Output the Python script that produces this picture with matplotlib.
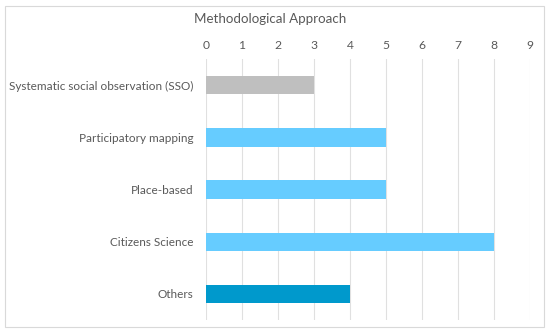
import matplotlib.pyplot as plt
from matplotlib.patches import Rectangle

categories = ["Systematic social observation (SSO)", "Participatory mapping",
              "Place-based", "Citizens Science", "Others"]
values = [3, 5, 5, 8, 4]
colors = ["#BFBFBF", "#66CCFF", "#66CCFF", "#66CCFF", "#0099CC"]

plt.rcParams['font.family'] = ['Lato', 'DejaVu Sans']

fig = plt.figure(figsize=(5.5, 3.36), dpi=100)
ax = fig.add_axes([0.3745, 0.0476, 0.5891, 0.7764])

# outer chart border
fig.patches.append(Rectangle((5 / 550, 1 - 327 / 336), 539 / 550, 321 / 336,
                             transform=fig.transFigure, fill=False,
                             edgecolor="#D9D9D9", linewidth=0.8))

y = range(len(categories))
ax.barh(y, values, height=0.35, color=colors)
ax.set_yticks(list(y))
ax.set_yticklabels(categories)
ax.set_ylim(len(categories) - 0.5, -0.5)
ax.set_xlim(0, 9)
ax.set_xticks(range(10))
ax.xaxis.tick_top()
ax.tick_params(length=0, labelsize=8.7, colors="#595959", pad=6)
ax.tick_params(axis="y", labelsize=8.5, pad=9)
ax.grid(axis="x", color="#E0E0E0", linewidth=0.8)
ax.set_axisbelow(True)
for s in ax.spines.values():
    s.set_visible(False)

fig.text(270 / 550, 1 - 19 / 336, "Methodological Approach", ha="center",
         va="center", fontsize=9.6, color="#595959")

fig.savefig("out.png", dpi=100)
